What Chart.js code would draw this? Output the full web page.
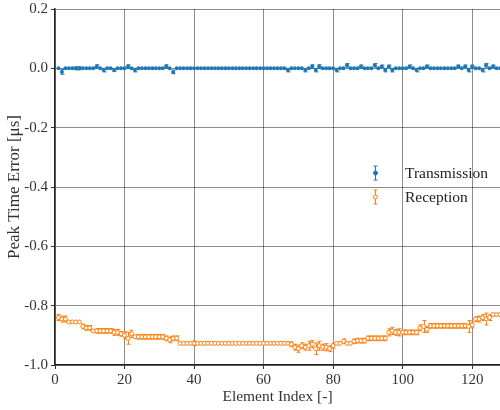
<!DOCTYPE html>
<html>
<head>
<meta charset="utf-8">
<script src="https://cdn.jsdelivr.net/npm/chart.js@4"></script>
<style>
  html, body { margin: 0; padding: 0; background: #fff; }
  #wrap { width: 500px; height: 410px; }
</style>
</head>
<body>
<div id="wrap"><canvas id="peak" width="500" height="410"></canvas></div>
<script>
// element indices 1..128
var elementIndex = Array.from({ length: 128 }, function (_, i) { return i + 1; });

var transmission = [
  0, -0.012, 0, 0, 0, 0, 0, 0, 0, 0, 0, 0.006, 0, -0.006, 0, 0,
  -0.006, 0, 0, 0, 0.006, 0, -0.006, 0, 0, 0, 0, 0, 0, 0, 0, 0.006,
  0, -0.012, 0, 0, 0, 0, 0, 0, 0, 0, 0, 0, 0, 0, 0, 0,
  0, 0, 0, 0, 0, 0, 0, 0, 0, 0, 0, 0, 0, 0, 0, 0,
  0, 0, -0.006, 0, 0, 0, 0, -0.006, 0, 0.006, -0.006, 0.006, 0, 0, 0, 0,
  -0.006, 0, 0, 0.01, 0, 0, 0, 0.006, 0, 0, 0, 0.01, 0, 0.006, -0.006, 0.006,
  -0.006, 0, 0, 0, 0, 0.006, 0, -0.006, 0, 0, 0.006, 0, 0, 0, 0, 0,
  0, 0, 0, 0.006, 0, 0.006, -0.006, 0.006, 0, 0, -0.006, 0.01, 0, 0.006, 0, 0
];
var transmissionErr = [
  0, 0.008, 0, 0, 0, 0.005, 0.005, 0, 0, 0, 0, 0.006, 0, 0.006, 0, 0,
  0.005, 0, 0, 0, 0.006, 0, 0.006, 0, 0, 0, 0, 0, 0, 0, 0, 0.006,
  0, 0.006, 0, 0, 0, 0, 0, 0, 0, 0, 0, 0, 0, 0, 0, 0,
  0, 0, 0, 0, 0, 0, 0, 0, 0, 0, 0, 0, 0, 0, 0, 0,
  0, 0, 0.006, 0, 0, 0, 0, 0.006, 0, 0.006, 0.006, 0.006, 0, 0, 0, 0,
  0.006, 0, 0, 0.006, 0, 0, 0, 0.005, 0, 0, 0, 0.006, 0, 0.005, 0.006, 0.005,
  0.006, 0, 0, 0, 0, 0.005, 0, 0.006, 0, 0, 0.005, 0, 0, 0, 0, 0,
  0, 0, 0, 0.005, 0, 0.005, 0.006, 0.005, 0, 0, 0.006, 0.006, 0, 0.005, 0, 0
];

var reception = [
  -0.84, -0.845, -0.845, -0.855, -0.855, -0.855, -0.855, -0.87, -0.875, -0.875, -0.885, -0.885, -0.885, -0.885, -0.885, -0.885,
  -0.89, -0.89, -0.895, -0.9, -0.91, -0.895, -0.905, -0.905, -0.905, -0.905, -0.905, -0.905, -0.905, -0.905, -0.905, -0.91,
  -0.915, -0.91, -0.91, -0.927, -0.927, -0.927, -0.927, -0.927, -0.927, -0.927, -0.927, -0.927, -0.927, -0.927, -0.927, -0.927,
  -0.927, -0.927, -0.927, -0.927, -0.927, -0.927, -0.927, -0.927, -0.927, -0.927, -0.927, -0.927, -0.927, -0.927, -0.927, -0.927,
  -0.927, -0.927, -0.927, -0.93, -0.94, -0.945, -0.935, -0.94, -0.935, -0.93, -0.945, -0.935, -0.94, -0.94, -0.945, -0.935,
  -0.927, -0.927, -0.92, -0.927, -0.927, -0.92, -0.918, -0.918, -0.918, -0.91, -0.91, -0.91, -0.91, -0.91, -0.91, -0.89,
  -0.885, -0.89, -0.89, -0.89, -0.89, -0.89, -0.89, -0.89, -0.875, -0.87, -0.88, -0.868, -0.868, -0.868, -0.868, -0.868,
  -0.868, -0.868, -0.868, -0.868, -0.868, -0.868, -0.87, -0.865, -0.845, -0.845, -0.84, -0.845, -0.84, -0.83, -0.83, -0.83
];
var receptionErr = [
  0.01, 0.01, 0.01, 0, 0, 0, 0, 0.008, 0.008, 0.008, 0, 0.008, 0.008, 0.008, 0.008, 0.008,
  0.01, 0.01, 0.008, 0.012, 0.02, 0.012, 0, 0.008, 0.008, 0.008, 0.008, 0.008, 0.008, 0.008, 0.008, 0.008,
  0.01, 0.008, 0.008, 0, 0, 0, 0, 0.008, 0, 0, 0, 0, 0, 0, 0, 0,
  0, 0, 0, 0, 0, 0, 0, 0, 0, 0, 0, 0, 0, 0, 0, 0,
  0, 0, 0, 0.008, 0.01, 0.012, 0.01, 0.01, 0.015, 0.012, 0.02, 0.015, 0.01, 0.012, 0.01, 0.008,
  0, 0, 0.008, 0, 0, 0.008, 0.008, 0.008, 0.008, 0.008, 0.008, 0.008, 0.008, 0.008, 0.008, 0.012,
  0.012, 0.01, 0.012, 0.008, 0.008, 0.008, 0.008, 0.008, 0.01, 0.02, 0.01, 0.008, 0.008, 0.008, 0.008, 0.008,
  0.008, 0.008, 0.008, 0.008, 0.008, 0.008, 0.02, 0.01, 0.008, 0.01, 0.01, 0.02, 0.01, 0, 0, 0
];

var xTicks = [0, 20, 40, 60, 80, 100, 120];
var yTicks = [0.2, 0.0, -0.2, -0.4, -0.6, -0.8, -1.0];

var BLUE = '#1f77b4';
var ORANGE = '#ff7f0e';
var SERIF = '"Liberation Serif", "DejaVu Serif", serif';

function points(ys) {
  return ys.map(function (y, i) { return { x: elementIndex[i], y: y }; });
}

// vertical error bars with caps, drawn under the markers
var errorBars = {
  id: 'errorBars',
  beforeDatasetsDraw: function (chart) {
    var ctx = chart.ctx, xs = chart.scales.x, ys = chart.scales.y, a = chart.chartArea;
    ctx.save();
    ctx.beginPath();
    ctx.rect(a.left, a.top, a.right - a.left, a.bottom - a.top);
    ctx.clip();
    ctx.lineWidth = 1;
    chart.data.datasets.forEach(function (ds) {
      ctx.strokeStyle = ds.borderColor;
      ds.errors.forEach(function (e, i) {
        if (!e) return;
        var x = Math.round(xs.getPixelForValue(ds.data[i].x)) + 0.5;
        var top = ys.getPixelForValue(ds.data[i].y + e);
        var bot = ys.getPixelForValue(ds.data[i].y - e);
        ctx.beginPath();
        ctx.moveTo(x, top); ctx.lineTo(x, bot);
        ctx.moveTo(x - 2, top); ctx.lineTo(x + 2, top);
        ctx.moveTo(x - 2, bot); ctx.lineTo(x + 2, bot);
        ctx.stroke();
      });
    });
    ctx.restore();
  }
};

// legend inside the plot, errorbar style icons
var innerLegend = {
  id: 'innerLegend',
  afterDraw: function (chart) {
    var ctx = chart.ctx;
    ctx.save();
    ctx.font = '15.5px ' + SERIF;
    ctx.textBaseline = 'middle';
    ctx.fillStyle = '#222';
    chart.data.datasets.forEach(function (ds, k) {
      var cx = 375.5, cy = 173 + k * 24;
      ctx.strokeStyle = ds.borderColor;
      ctx.lineWidth = 1;
      ctx.beginPath();
      ctx.moveTo(cx, cy - 7); ctx.lineTo(cx, cy + 7);
      ctx.moveTo(cx - 2, cy - 7); ctx.lineTo(cx + 2, cy - 7);
      ctx.moveTo(cx - 2, cy + 7); ctx.lineTo(cx + 2, cy + 7);
      ctx.stroke();
      ctx.beginPath();
      ctx.arc(cx, cy, 2, 0, Math.PI * 2);
      ctx.fillStyle = ds.pointBackgroundColor;
      ctx.fill();
      ctx.strokeStyle = ds.borderColor;
      ctx.stroke();
      ctx.fillStyle = '#222';
      ctx.fillText(ds.label, 405, cy + 1);
    });
    ctx.restore();
  }
};

var peak = document.getElementById('peak').getContext('2d');
var chart = new Chart(peak, {
  type: 'scatter',
  data: {
    datasets: [{
      label: 'Transmission',
      data: points(transmission),
      errors: transmissionErr,
      borderColor: BLUE,
      backgroundColor: BLUE,
      pointBackgroundColor: BLUE,
      pointRadius: 2,
      pointBorderWidth: 0,
      showLine: false
    }, {
      label: 'Reception',
      data: points(reception),
      errors: receptionErr,
      borderColor: ORANGE,
      backgroundColor: '#ffffff',
      pointBackgroundColor: '#ffffff',
      pointRadius: 2,
      pointBorderWidth: 1,
      showLine: false
    }]
  },
  plugins: [errorBars, innerLegend],
  options: {
    responsive: false,
    animation: false,
    layout: { autoPadding: false, padding: { top: 9, right: 0, left: 0, bottom: 0 } },
    plugins: {
      legend: { display: false },
      tooltip: { enabled: false }
    },
    scales: {
      x: {
        type: 'linear',
        min: 0,
        max: 128,
        afterFit: function (s) { s.height = 45; s.paddingRight = 0; s.paddingLeft = 0; },
        afterBuildTicks: function (s) { s.ticks = xTicks.map(function (v) { return { value: v }; }); },
        ticks: {
          color: '#333',
          font: { family: SERIF, size: 15, lineHeight: 1 },
          padding: 4,
          maxRotation: 0,
          callback: function (v) { return String(v); }
        },
        grid: { color: 'rgba(0,0,0,0.45)', lineWidth: 1, tickLength: 4, tickColor: '#333' },
        border: { color: '#222', width: 1.5 },
        title: {
          display: true,
          text: 'Element Index [-]',
          color: '#333',
          font: { family: SERIF, size: 15.5 },
          padding: { top: 0, bottom: 4 }
        }
      },
      y: {
        min: -1.0,
        max: 0.2,
        afterFit: function (s) { s.width = 55; s.paddingTop = 0; s.paddingBottom = 0; },
        afterBuildTicks: function (s) { s.ticks = yTicks.map(function (v) { return { value: v }; }); },
        ticks: {
          color: '#333',
          font: { family: SERIF, size: 15, lineHeight: 1 },
          padding: 3,
          callback: function (v) { return Math.abs(v) < 1e-9 ? '0.0' : v.toFixed(1); }
        },
        grid: { color: 'rgba(0,0,0,0.45)', lineWidth: 1, tickLength: 4, tickColor: '#333' },
        border: { color: '#222', width: 1.5 },
        title: {
          display: true,
          text: 'Peak Time Error [μs]',
          color: '#333',
          font: { family: SERIF, size: 17 },
          padding: { top: 4, bottom: 0 }
        }
      }
    }
  }
});
</script>
</body>
</html>
